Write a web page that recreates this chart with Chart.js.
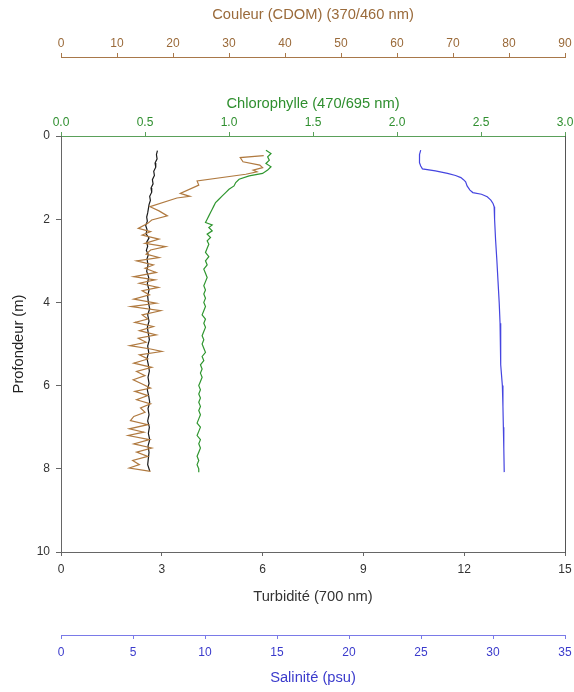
<!DOCTYPE html>
<html lang="fr">
<head>
    <meta charset="UTF-8">
    <title>Profil CTD</title>
    <script src="https://cdn.jsdelivr.net/npm/chart.js"></script>
    <style>
        body {
            margin: 0;
            background: #fff;
        }
        .chartContainer {
            width: 574px;
            height: 692px;
        }
    </style>
</head>
<body>
    <div class="chartContainer">
        <canvas id="profileChart"></canvas>
    </div>

    <script>
        // depths (m) and values for each profile
        const turbDepth = [0.35, 0.45, 0.55, 0.65, 0.75, 0.85, 0.95, 1.05, 1.15, 1.25, 1.35, 1.45, 1.55, 1.65, 1.75, 1.85, 1.95, 2.05, 2.15, 2.25, 2.35, 2.45, 2.55, 2.65, 2.75, 2.85, 2.95, 3.1, 3.25, 3.4, 3.55, 3.7, 3.85, 4.0, 4.15, 4.3, 4.45, 4.6, 4.75, 4.9, 5.05, 5.2, 5.35, 5.5, 5.65, 5.8, 5.95, 6.1, 6.25, 6.4, 6.55, 6.7, 6.85, 7.0, 7.15, 7.3, 7.45, 7.6, 7.75, 7.9, 8.05];
        const turbidity = [2.87, 2.84, 2.86, 2.80, 2.82, 2.76, 2.78, 2.72, 2.74, 2.68, 2.70, 2.64, 2.66, 2.62, 2.60, 2.58, 2.55, 2.57, 2.52, 2.56, 2.53, 2.62, 2.55, 2.58, 2.54, 2.60, 2.56, 2.59, 2.55, 2.61, 2.57, 2.62, 2.58, 2.60, 2.64, 2.58, 2.62, 2.57, 2.60, 2.63, 2.58, 2.61, 2.56, 2.60, 2.63, 2.59, 2.62, 2.57, 2.61, 2.64, 2.59, 2.62, 2.58, 2.63, 2.60, 2.64, 2.59, 2.62, 2.60, 2.58, 2.64];

        const cdomDepth = [0.47, 0.52, 0.62, 0.70, 0.76, 0.82, 0.86, 0.92, 1.08, 1.18, 1.38, 1.45, 1.49, 1.70, 1.80, 1.92, 2.02, 2.10, 2.22, 2.30, 2.38, 2.48, 2.58, 2.66, 2.74, 2.84, 2.92, 3.00, 3.10, 3.18, 3.28, 3.38, 3.46, 3.54, 3.64, 3.72, 3.82, 3.92, 4.02, 4.10, 4.20, 4.30, 4.40, 4.48, 4.58, 4.68, 4.78, 4.86, 4.96, 5.04, 5.12, 5.18, 5.26, 5.36, 5.46, 5.56, 5.66, 5.76, 5.86, 5.96, 6.06, 6.14, 6.24, 6.34, 6.44, 6.54, 6.64, 6.74, 6.84, 6.94, 7.04, 7.12, 7.20, 7.30, 7.40, 7.50, 7.60, 7.70, 7.80, 7.90, 7.98, 8.06];
        const cdom = [36.2, 32.0, 32.5, 35.5, 36.0, 34.3, 35.0, 33.0, 24.3, 24.6, 21.3, 23.0, 20.7, 15.9, 17.5, 19.0, 16.2, 15.5, 13.8, 16.0, 14.5, 17.5, 15.0, 18.7, 16.0, 15.2, 17.5, 13.5, 16.5, 15.0, 17.0, 13.0, 16.8, 14.0, 17.4, 14.5, 15.8, 13.0, 17.0, 12.5, 17.8, 14.5, 15.5, 13.2, 16.5, 14.0, 17.0, 13.8, 15.2, 12.3, 16.0, 18.0, 14.0, 15.5, 13.0, 16.2, 13.5, 15.0, 12.9, 14.5, 16.0, 13.2, 15.5, 13.5, 16.0, 14.2, 15.0, 13.0, 12.4, 15.5, 12.2, 14.8, 12.0, 15.8, 13.0, 16.2, 13.5, 15.5, 12.8, 14.0, 12.2, 16.0];

        const chlDepth = [0.34, 0.42, 0.50, 0.58, 0.66, 0.74, 0.82, 0.90, 0.96, 1.04, 1.12, 1.20, 1.28, 1.36, 1.44, 1.52, 1.60, 1.68, 1.76, 1.84, 1.92, 2.00, 2.08, 2.14, 2.20, 2.28, 2.36, 2.44, 2.52, 2.60, 2.70, 2.80, 2.90, 3.00, 3.10, 3.20, 3.30, 3.40, 3.50, 3.60, 3.70, 3.80, 3.90, 4.00, 4.10, 4.20, 4.30, 4.40, 4.50, 4.60, 4.70, 4.80, 4.90, 5.00, 5.10, 5.20, 5.30, 5.40, 5.50, 5.60, 5.70, 5.80, 5.90, 6.00, 6.10, 6.20, 6.30, 6.40, 6.50, 6.60, 6.70, 6.80, 6.90, 7.00, 7.10, 7.20, 7.30, 7.40, 7.50, 7.60, 7.70, 7.80, 7.90, 8.00, 8.08];
        const chlorophyll = [1.22, 1.25, 1.23, 1.24, 1.22, 1.25, 1.23, 1.20, 1.12, 1.06, 1.04, 1.03, 1.00, 0.98, 0.96, 0.94, 0.92, 0.91, 0.90, 0.89, 0.88, 0.87, 0.86, 0.90, 0.88, 0.90, 0.87, 0.89, 0.87, 0.88, 0.87, 0.86, 0.88, 0.86, 0.87, 0.85, 0.86, 0.87, 0.86, 0.85, 0.86, 0.85, 0.86, 0.85, 0.86, 0.85, 0.84, 0.86, 0.85, 0.86, 0.85, 0.84, 0.85, 0.84, 0.85, 0.86, 0.84, 0.85, 0.83, 0.84, 0.83, 0.84, 0.83, 0.82, 0.83, 0.82, 0.83, 0.82, 0.83, 0.82, 0.83, 0.82, 0.81, 0.83, 0.82, 0.81, 0.83, 0.82, 0.83, 0.82, 0.81, 0.82, 0.81, 0.82, 0.82];

        const salDepth = [0.34, 0.44, 0.54, 0.64, 0.72, 0.79, 0.84, 0.90, 0.95, 1.00, 1.05, 1.10, 1.20, 1.30, 1.36, 1.40, 1.46, 1.54, 1.62, 1.70, 2.0, 2.5, 3.0, 3.5, 4.0, 4.5, 5.0, 5.5, 6.0, 6.5, 7.0, 7.5, 8.08];
        const salinity = [24.98, 24.90, 24.87, 24.92, 24.98, 25.10, 26.00, 26.84, 27.40, 27.77, 27.95, 28.10, 28.20, 28.40, 28.60, 29.20, 29.60, 29.85, 30.00, 30.08, 30.11, 30.18, 30.27, 30.35, 30.43, 30.49, 30.52, 30.55, 30.65, 30.69, 30.72, 30.75, 30.78];

        const FONT = 'Liberation Sans, Arial, sans-serif';

        function points(xs, depths) {
            return xs.map((v, i) => ({ x: v, y: depths[i] }));
        }

        function xAxis(position, weight, min, max, step, color, lineColor, title, titlePad, labelPad, boxHeight, fmt) {
            return {
                type: 'linear',
                position: position,
                weight: weight,
                min: min,
                max: max,
                ticks: {
                    stepSize: step,
                    color: color,
                    padding: labelPad,
                    font: { family: FONT, size: 12 },
                    callback: fmt || (v => v)
                },
                grid: { drawOnChartArea: false, tickLength: 4, color: lineColor },
                border: { color: lineColor, width: 1 },
                title: {
                    display: true,
                    text: title,
                    color: color,
                    padding: titlePad,
                    font: { family: FONT, size: 14.7 }
                },
                afterFit: (scale) => {
                    scale.height = boxHeight;
                    scale.paddingLeft = 0;
                    scale.paddingRight = 0;
                }
            };
        }

        const ctx = document.getElementById('profileChart').getContext('2d');
        new Chart(ctx, {
            type: 'scatter',
            data: {
                datasets: [
                    { label: 'Couleur', data: points(cdom, cdomDepth), xAxisID: 'xCdom', borderColor: '#b07a40' },
                    { label: 'Chlorophylle', data: points(chlorophyll, chlDepth), xAxisID: 'xChl', borderColor: '#2f962f' },
                    { label: 'Turbidité', data: points(turbidity, turbDepth), xAxisID: 'xTurb', borderColor: '#1a1a1a' },
                    { label: 'Salinité', data: points(salinity, salDepth), xAxisID: 'xSal', borderColor: '#4545e0' }
                ]
            },
            options: {
                responsive: true,
                maintainAspectRatio: false,
                animation: false,
                layout: { padding: 0 },
                elements: {
                    point: { radius: 0 },
                    line: { borderWidth: 1.2, tension: 0 }
                },
                datasets: { scatter: { showLine: true } },
                plugins: {
                    legend: { display: false },
                    tooltip: { enabled: false }
                },
                scales: {
                    xCdom: xAxis('top', 2, 0, 90, 10, '#9a6a3a', '#a8784a', 'Couleur (CDOM) (370/460 nm)', { top: 6, bottom: 0 }, 2, 57),
                    xChl: xAxis('top', 1, 0, 3, 0.5, '#2f8f2f', '#5aa05a', 'Chlorophylle (470/695 nm)', { top: 38, bottom: 0 }, 2, 79, v => v.toFixed(1)),
                    xTurb: xAxis('bottom', 1, 0, 15, 3, '#333333', '#666666', 'Turbidité (700 nm)', { top: 0, bottom: 29 }, 6, 83),
                    xSal: xAxis('bottom', 2, 0, 35, 5, '#3b3bcc', '#7a7ae8', 'Salinité (psu)', { top: 0, bottom: 5 }, 6, 57),
                    y: {
                        type: 'linear',
                        position: 'left',
                        reverse: true,
                        min: 0,
                        max: 10,
                        ticks: {
                            stepSize: 2,
                            color: '#333333',
                            padding: 6,
                            font: { family: FONT, size: 12 }
                        },
                        grid: { drawOnChartArea: false, tickLength: 5, color: '#666666' },
                        border: { color: '#666666', width: 1 },
                        title: {
                            display: true,
                            text: 'Profondeur (m)',
                            color: '#222222',
                            padding: { top: 10, bottom: 0 },
                            font: { family: FONT, size: 14.7 }
                        },
                        afterFit: (scale) => { scale.width = 61; }
                    },
                    yRight: {
                        type: 'linear',
                        position: 'right',
                        reverse: true,
                        min: 0,
                        max: 10,
                        ticks: { display: false },
                        grid: { drawOnChartArea: false, drawTicks: false },
                        border: { color: '#555555', width: 1 },
                        afterFit: (scale) => { scale.width = 9; }
                    }
                }
            }
        });
    </script>
</body>
</html>
